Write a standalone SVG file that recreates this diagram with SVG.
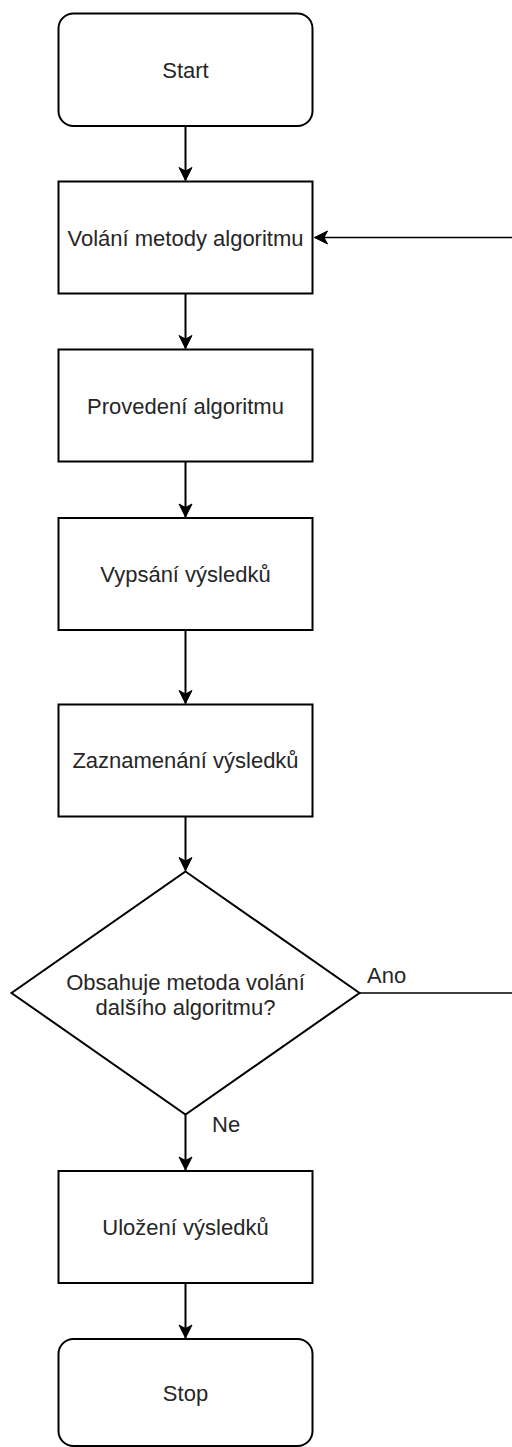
<svg xmlns="http://www.w3.org/2000/svg" width="512" height="1447" viewBox="0 0 512 1447">
<style>
.n{fill:#fff;stroke:#000;stroke-width:2}
.t{font-family:"Liberation Sans",Arial,sans-serif;font-size:22px;fill:#262626;text-anchor:middle}
.l{font-family:"Liberation Sans",Arial,sans-serif;font-size:22px;fill:#262626}
.c{fill:none;stroke:#000;stroke-width:2}
.c2{fill:none;stroke:#000;stroke-width:1.5}
</style>
<defs>
<marker id="ah" markerUnits="userSpaceOnUse" markerWidth="16" markerHeight="16" viewBox="-14 -8 16 16" refX="0" refY="0" orient="auto" overflow="visible">
<path d="M0,0 L-13,-6.5 L-9.5,0 L-13,6.5 Z" fill="#000" stroke="#000" stroke-width="1"/>
</marker>
</defs>
<rect width="512" height="1447" fill="#fff"/>
<g id="connectors">
<path class="c" d="M185.5,126 V180.5" marker-end="url(#ah)"/>
<path class="c" d="M185.5,293.5 V348.5" marker-end="url(#ah)"/>
<path class="c" d="M185.5,461.5 V517" marker-end="url(#ah)"/>
<path class="c" d="M185.5,630 V703.5" marker-end="url(#ah)"/>
<path class="c" d="M185.5,816.5 V870.5" marker-end="url(#ah)"/>
<path class="c" d="M185.5,1114.5 V1170" marker-end="url(#ah)"/>
<path class="c" d="M185.5,1283 V1338" marker-end="url(#ah)"/>
<path class="c2" d="M359.5,993 H516 V237.5 H314.5" marker-end="url(#ah)"/>
<text class="l" x="367" y="983">Ano</text>
<text class="l" x="212" y="1132">Ne</text>
</g>
<g id="start">
<rect class="n" x="58.5" y="13.5" width="254" height="112.5" rx="15" ry="15"/>
<text class="t" x="185.5" y="77.7">Start</text>
</g>
<g id="volani">
<rect class="n" x="58.5" y="181.5" width="254" height="112"/>
<text class="t" x="185.5" y="245.5">Volání metody algoritmu</text>
</g>
<g id="provedeni">
<rect class="n" x="58.5" y="349.5" width="254" height="112"/>
<text class="t" x="185.5" y="414">Provedení algoritmu</text>
</g>
<g id="vypsani">
<rect class="n" x="58.5" y="518" width="254" height="112"/>
<text class="t" x="185.5" y="582">Vypsání výsledků</text>
</g>
<g id="zaznamenani">
<rect class="n" x="58.5" y="704.5" width="254" height="112"/>
<text class="t" x="185.5" y="768">Zaznamenání výsledků</text>
</g>
<g id="decision">
<path class="n" d="M185.5,871.5 L359.5,993 L185.5,1114.5 L11.5,993 Z"/>
<text class="t" x="185.5" y="990">Obsahuje metoda volání</text>
<text class="t" x="185.5" y="1015">dalšího algoritmu?</text>
</g>
<g id="ulozeni">
<rect class="n" x="58.5" y="1171" width="254" height="112"/>
<text class="t" x="185.5" y="1235">Uložení výsledků</text>
</g>
<g id="stop">
<rect class="n" x="58.5" y="1339" width="254" height="107" rx="15" ry="15"/>
<text class="t" x="185.5" y="1401">Stop</text>
</g>
</svg>
